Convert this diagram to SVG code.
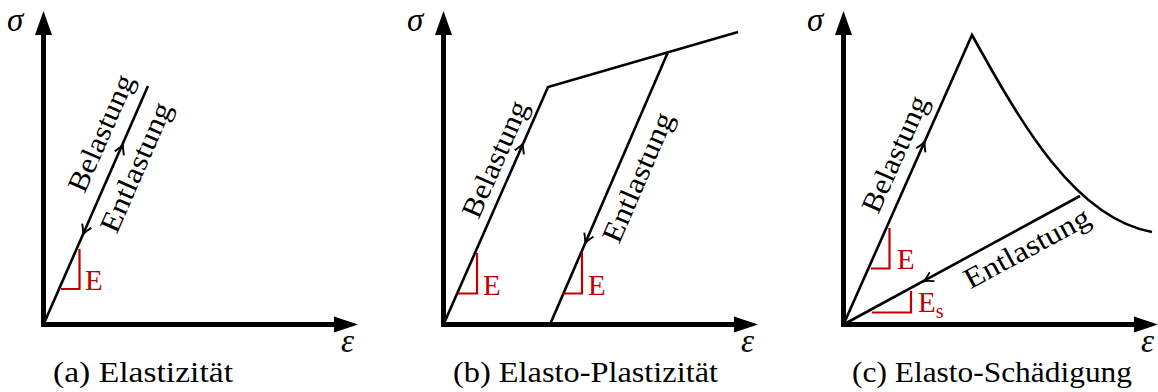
<svg xmlns="http://www.w3.org/2000/svg" width="1158" height="392" viewBox="0 0 1158 392">
<style>
text{font-family:"Liberation Serif","DejaVu Serif",serif}
.t{font-size:29px;fill:#000}
.m{font-size:33px;font-style:italic;fill:#000}
.r{font-size:29px;fill:#c00000}
.ax{stroke:#000;stroke-width:5;fill:none}
.cv{stroke:#000;stroke-width:2.6;fill:none;stroke-linejoin:miter}
.tri{stroke:#c00000;stroke-width:2.2;fill:none}
</style>
<defs>
<path id="ah" d="M-8,-5 C-4,-2.5 -1,-0.6 1.5,0 C-1,0.6 -4,2.5 -8,5" fill="none" stroke="#000" stroke-width="1.9"/>
<path id="hy" d="M0,0 L-8.5,24 L8.5,24 Z" fill="#000"/>
<path id="hx" d="M0,0 L-24,-8 L-24,8 Z" fill="#000"/>
</defs>

<g id="axes">
<line class="ax" x1="43.5" y1="324.5" x2="43.5" y2="30"/><use href="#hy" x="43.5" y="11"/>
<line class="ax" x1="41" y1="324.5" x2="340" y2="324.5"/><use href="#hx" x="358" y="324.5"/>
<line class="ax" x1="443.5" y1="324.5" x2="443.5" y2="30"/><use href="#hy" x="443.5" y="11"/>
<line class="ax" x1="441" y1="324.5" x2="740" y2="324.5"/><use href="#hx" x="758" y="324.5"/>
<line class="ax" x1="843.5" y1="324.5" x2="843.5" y2="30"/><use href="#hy" x="843.5" y="11"/>
<line class="ax" x1="841" y1="324.5" x2="1140" y2="324.5"/><use href="#hx" x="1158" y="324.5"/>
</g>

<g id="connectors">
<path class="cv" d="M43.5,324.5 L148,86"/>
<path class="cv" d="M443.5,324.5 L548,87 L738,32"/>
<path class="cv" d="M668,52 L550,324.5"/>
<path class="cv" d="M843.5,324.5 L972,35 C1022,125 1075,218 1152,232"/>
<path class="cv" d="M1080,196 L843.5,324.5"/>
<use href="#ah" transform="translate(122.5,146) rotate(-66.3)"/>
<use href="#ah" transform="translate(83.6,233) rotate(113.7)"/>
<use href="#ah" transform="translate(522.5,145) rotate(-66.2)"/>
<use href="#ah" transform="translate(585.7,242) rotate(113.4)"/>
<use href="#ah" transform="translate(924.1,143) rotate(-66.05)"/>
<use href="#ah" transform="translate(925,280.5) rotate(151.65)"/>
</g>

<g id="panel-a">
<text class="m" x="7" y="31">σ</text>
<text class="m" x="341" y="352">ε</text>
<text class="t" text-anchor="middle" transform="translate(109.6,137) rotate(-66.3)" textLength="125" lengthAdjust="spacingAndGlyphs">Belastung</text>
<text class="t" text-anchor="middle" transform="translate(144.6,171) rotate(-66.3)" textLength="139" lengthAdjust="spacingAndGlyphs">Entlastung</text>
<polyline class="tri" points="79.5,249 79.5,289 61,289"/>
<text class="r" x="85" y="290">E</text>
<text class="t" x="53" y="382" textLength="180" lengthAdjust="spacingAndGlyphs">(a) Elastizität</text>
</g>

<g id="panel-b">
<text class="m" x="407" y="31">σ</text>
<text class="m" x="741" y="352">ε</text>
<text class="t" text-anchor="middle" transform="translate(503.6,163) rotate(-66.2)" textLength="125" lengthAdjust="spacingAndGlyphs">Belastung</text>
<text class="t" text-anchor="middle" transform="translate(646.6,181) rotate(-66.6)" textLength="139" lengthAdjust="spacingAndGlyphs">Entlastung</text>
<polyline class="tri" points="477,253 477,293.5 458,293.5"/>
<text class="r" x="483" y="295">E</text>
<polyline class="tri" points="582,253 582,293.5 563,293.5"/>
<text class="r" x="588" y="295">E</text>
<text class="t" x="453" y="382" textLength="265" lengthAdjust="spacingAndGlyphs">(b) Elasto-Plastizität</text>
</g>

<g id="panel-c">
<text class="m" x="807" y="31">σ</text>
<text class="m" x="1141" y="352">ε</text>
<text class="t" text-anchor="middle" transform="translate(903.6,158) rotate(-66.05)" textLength="125" lengthAdjust="spacingAndGlyphs">Belastung</text>
<text class="t" text-anchor="middle" transform="translate(1031.5,256.4) rotate(-28.4)" textLength="139" lengthAdjust="spacingAndGlyphs">Entlastung</text>
<polyline class="tri" points="889.5,228 889.5,268.5 871,268.5"/>
<text class="r" x="897" y="269">E</text>
<polyline class="tri" points="911,291 911,312.5 872,312.5"/>
<text class="r" x="918" y="312">E<tspan font-size="20" dy="6">s</tspan></text>
<text class="t" x="852" y="382" textLength="280" lengthAdjust="spacingAndGlyphs">(c) Elasto-Schädigung</text>
</g>
</svg>
